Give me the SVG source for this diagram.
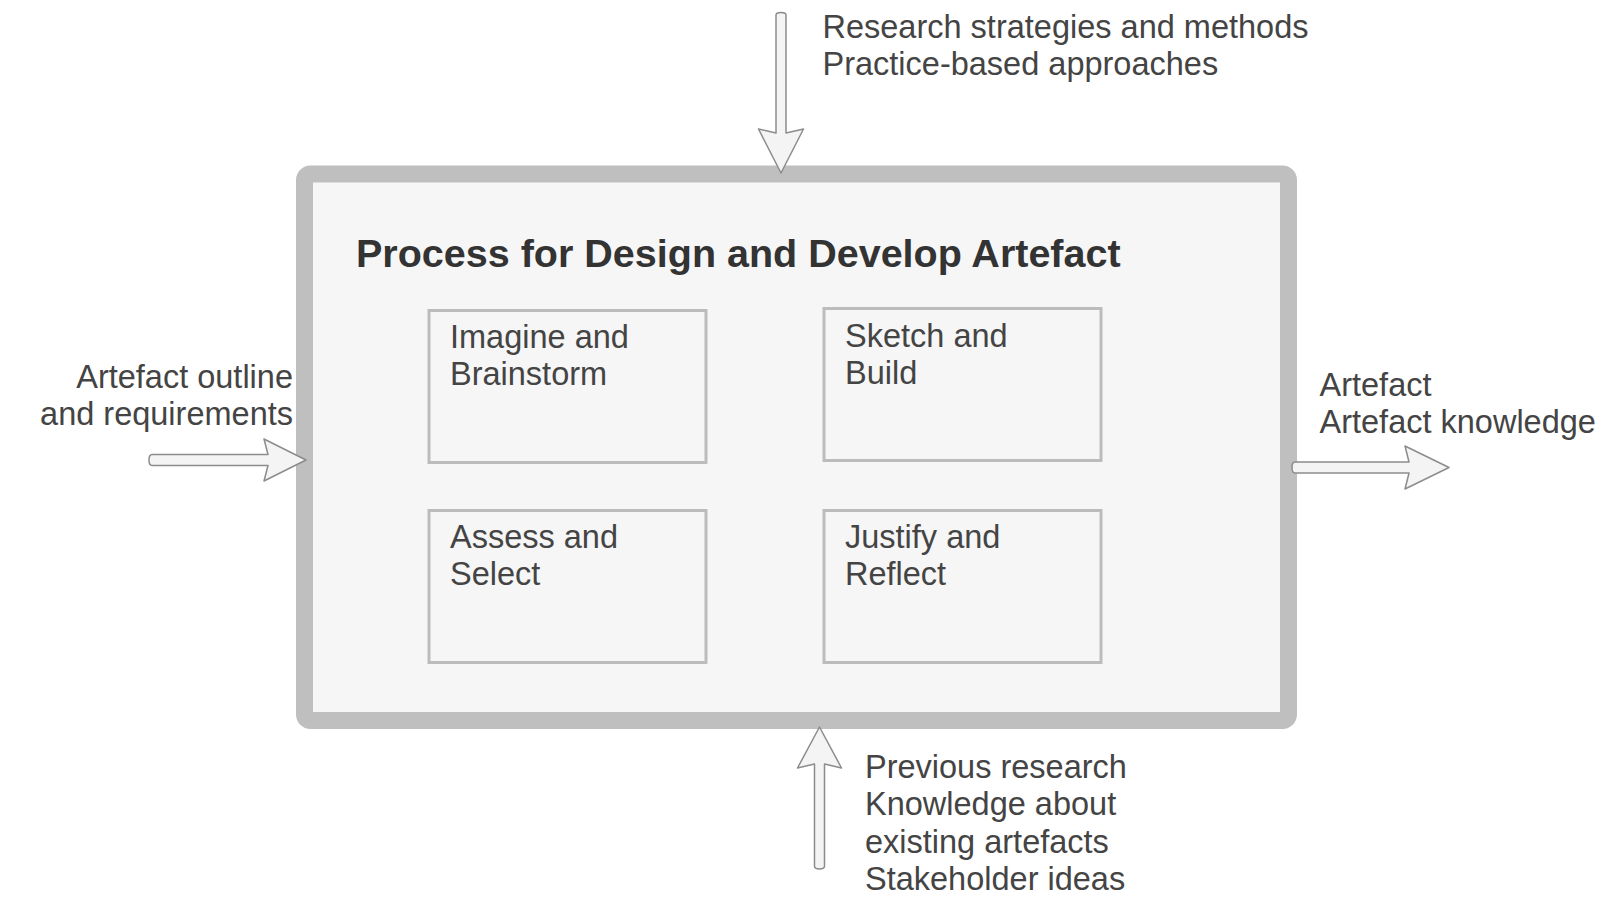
<svg xmlns="http://www.w3.org/2000/svg" width="1600" height="900" viewBox="0 0 1600 900">
<style>
  .lbl { font-family: "Liberation Sans", Arial, sans-serif; font-size: 32.5px; fill: #444444; }
  .title { font-family: "Liberation Sans", Arial, sans-serif; font-size: 39.5px; font-weight: bold; fill: #333333; }
  .step { fill: #f6f6f6; stroke: #bcbcbc; stroke-width: 3; }
  .arrow { fill: #f4f4f4; stroke: #8c8c8c; stroke-width: 1.5; stroke-linejoin: round; }
</style>
<rect width="1600" height="900" fill="#ffffff"/>

<g id="process">
  <rect x="304.5" y="174" width="984" height="546.5" rx="6" fill="#f6f6f6" stroke="#bfbfbf" stroke-width="17"/>
  <text class="title" x="356" y="267">Process for Design and Develop Artefact</text>
</g>

<g id="imagine">
  <rect class="step" x="429" y="310.5" width="277" height="152"/>
  <text class="lbl" x="450" y="348">Imagine and</text>
  <text class="lbl" x="450" y="385">Brainstorm</text>
</g>
<g id="sketch">
  <rect class="step" x="824" y="308.5" width="277" height="152"/>
  <text class="lbl" x="845" y="346.5">Sketch and</text>
  <text class="lbl" x="845" y="383.5">Build</text>
</g>
<g id="assess">
  <rect class="step" x="429" y="510.5" width="277" height="152"/>
  <text class="lbl" x="450" y="548">Assess and</text>
  <text class="lbl" x="450" y="585">Select</text>
</g>
<g id="justify">
  <rect class="step" x="824" y="510.5" width="277" height="152"/>
  <text class="lbl" x="845" y="548">Justify and</text>
  <text class="lbl" x="845" y="585">Reflect</text>
</g>

<g id="connectors">
  <path class="arrow" d="M 776 15 Q 776 12.5 781 12.5 Q 786 12.5 786 15 L 786 133 L 803.5 129 L 781 173 L 758.5 129 L 776 133 Z"/>
  <path class="arrow" d="M 152 454.5 L 268 454.5 L 264 439 L 306 460 L 264 481 L 268 465.5 L 152 465.5 Q 149 465.5 149 460 Q 149 454.5 152 454.5 Z"/>
  <path class="arrow" d="M 1295 462 L 1409 462 L 1405 446 L 1449 467.5 L 1405 489 L 1409 473 L 1295 473 Q 1292 473 1292 467.5 Q 1292 462 1295 462 Z"/>
  <path class="arrow" d="M 814.5 866 Q 814.5 869 819.5 869 Q 824.5 869 824.5 866 L 824.5 764 L 841.5 768 L 819.5 727 L 797.5 768 L 814.5 764 Z"/>
</g>

<g id="labels">
  <text class="lbl" x="822.5" y="38">Research strategies and methods</text>
  <text class="lbl" x="822.5" y="75">Practice-based approaches</text>
  <text class="lbl" x="293" y="388" text-anchor="end">Artefact outline</text>
  <text class="lbl" x="293" y="425" text-anchor="end">and requirements</text>
  <text class="lbl" x="1319.5" y="395.5">Artefact</text>
  <text class="lbl" x="1319.5" y="432.5">Artefact knowledge</text>
  <text class="lbl" x="865" y="777.5">Previous research</text>
  <text class="lbl" x="865" y="815">Knowledge about</text>
  <text class="lbl" x="865" y="852.5">existing artefacts</text>
  <text class="lbl" x="865" y="890">Stakeholder ideas</text>
</g>
</svg>
